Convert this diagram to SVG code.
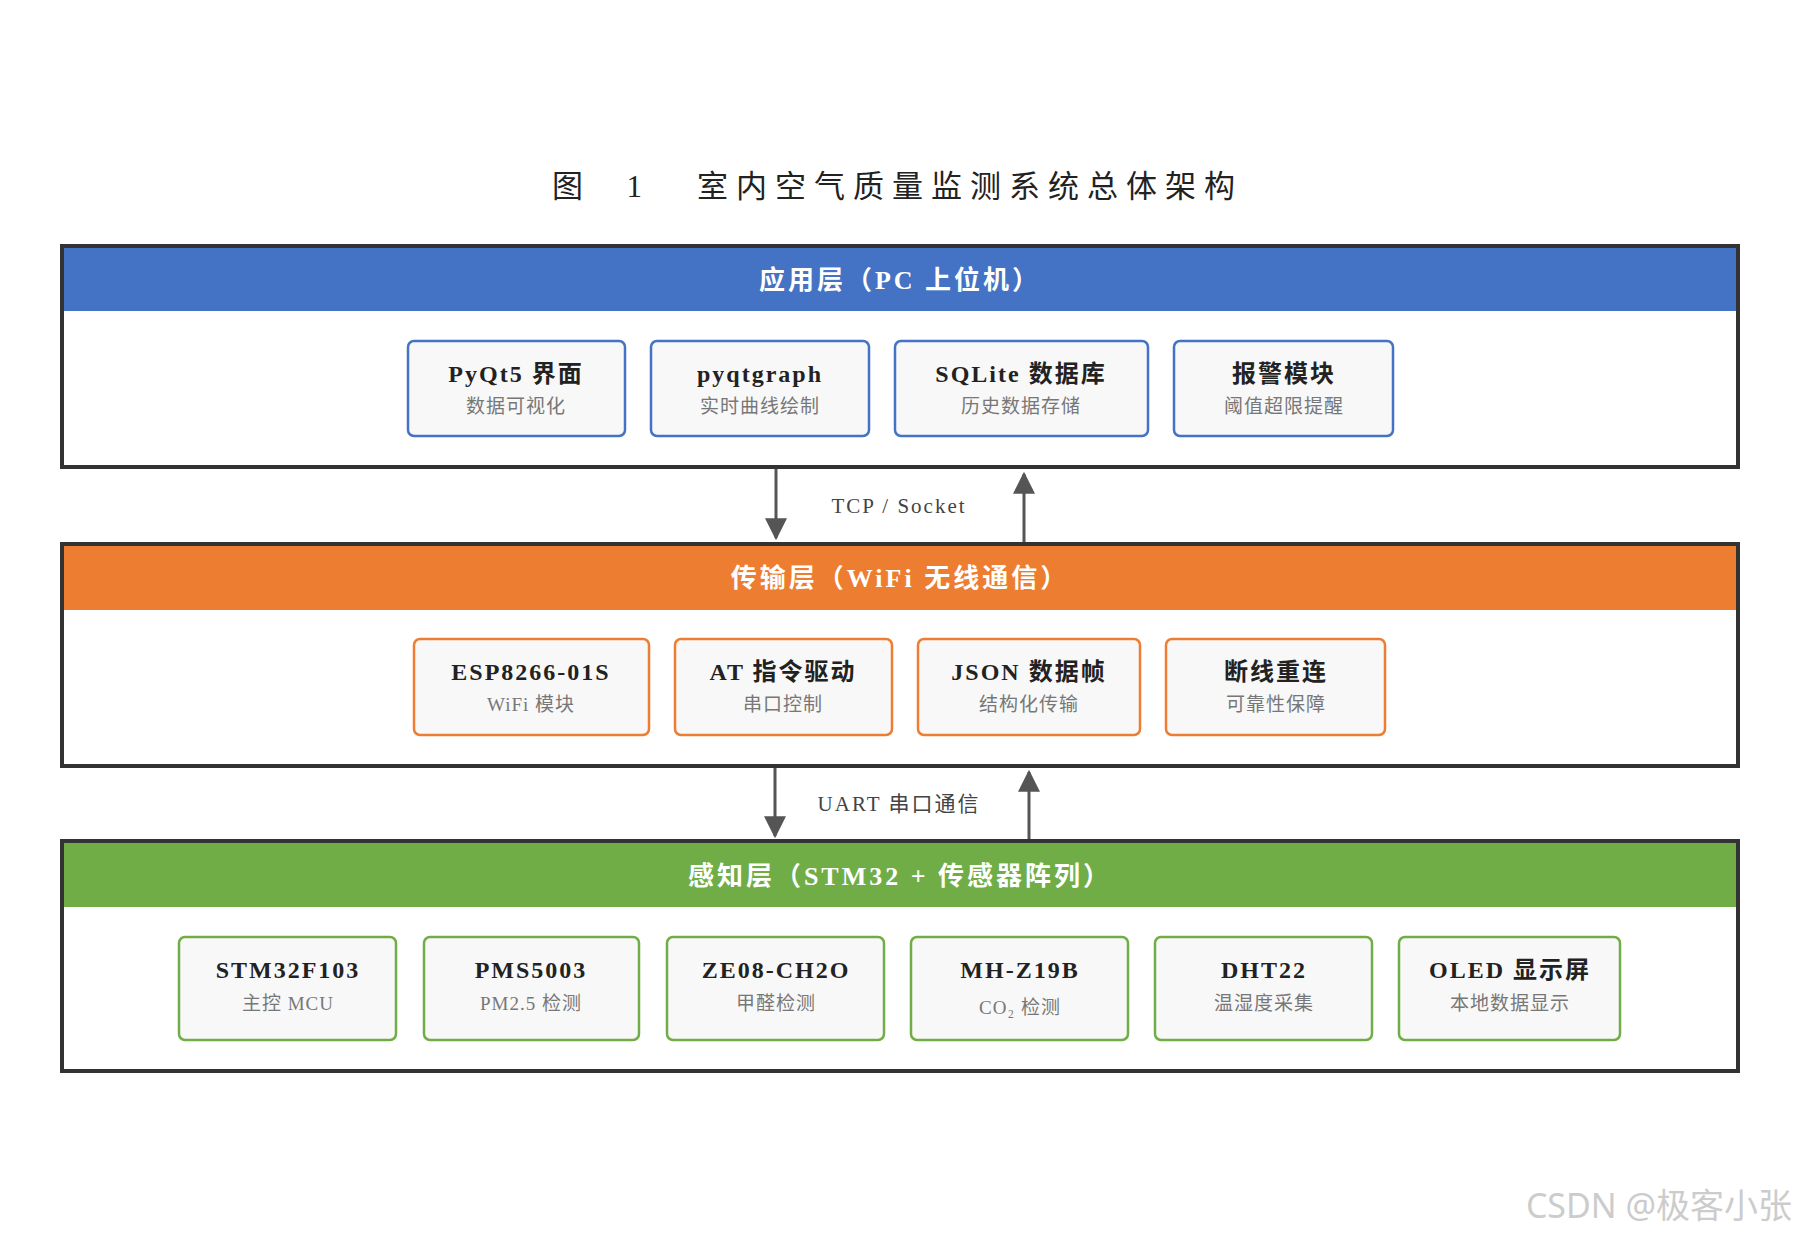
<svg xmlns="http://www.w3.org/2000/svg" width="1800" height="1240" viewBox="0 0 1800 1240">
<defs>
<marker id="ah" viewBox="0 0 10 10" refX="9" refY="5" markerWidth="7" markerHeight="7" orient="auto" markerUnits="userSpaceOnUse"><path d="M0,0 L10,5 L0,10 z" fill="#555"/></marker>
<style>
text{font-family:"Liberation Serif","Noto Sans CJK SC",serif;text-anchor:middle}
.title{font-size:31px;letter-spacing:8px;fill:#222}
.hdr{font-size:26px;font-weight:bold;fill:#fff;letter-spacing:3px}
.bt{font-size:24px;font-weight:bold;fill:#222;letter-spacing:2px}
.bs{font-size:19px;fill:#777;letter-spacing:1px}
.lbl{font-size:21px;fill:#444;letter-spacing:2px}
.outer{fill:#fff;stroke:#333;stroke-width:4}
.box{fill:#f8f8f8;stroke-width:2.5}
.b1{stroke:#4472C4}.b2{stroke:#ED7D31}.b3{stroke:#70AD47}
.conn{stroke:#555;stroke-width:3;fill:none;marker-end:url(#ah)}
</style>
<marker id="ah2" viewBox="0 0 10 10" refX="9" refY="5" markerWidth="22" markerHeight="22" orient="auto" markerUnits="userSpaceOnUse"><path d="M0,0 L10,5 L0,10 z" fill="#555"/></marker>
</defs>
<rect width="1800" height="1240" fill="#fff"/>
<text class="title" x="606" y="197" style="letter-spacing:18px">图 1</text>
<text class="title" x="970" y="197">室内空气质量监测系统总体架构</text>

<g id="layer-app">
<rect class="outer" x="62" y="246" width="1676" height="221"/>
<rect x="64" y="248" width="1672" height="63" fill="#4472C4"/>
<text class="hdr" x="900" y="289">应用层（PC 上位机）</text>
</g>
<g id="n-pyqt5"><rect class="box b1" x="408" y="341" width="217" height="95" rx="6"/><text class="bt" x="516" y="382">PyQt5 界面</text><text class="bs" x="516" y="413">数据可视化</text></g>
<g id="n-pyqtgraph"><rect class="box b1" x="651" y="341" width="218" height="95" rx="6"/><text class="bt" x="760" y="382">pyqtgraph</text><text class="bs" x="760" y="413">实时曲线绘制</text></g>
<g id="n-sqlite"><rect class="box b1" x="895" y="341" width="253" height="95" rx="6"/><text class="bt" x="1021" y="382">SQLite 数据库</text><text class="bs" x="1021" y="413">历史数据存储</text></g>
<g id="n-alarm"><rect class="box b1" x="1174" y="341" width="219" height="95" rx="6"/><text class="bt" x="1284" y="382">报警模块</text><text class="bs" x="1284" y="413">阈值超限提醒</text></g>

<g id="layer-trans">
<rect class="outer" x="62" y="544" width="1676" height="222"/>
<rect x="64" y="546" width="1672" height="64" fill="#ED7D31"/>
<text class="hdr" x="900" y="587">传输层（WiFi 无线通信）</text>
</g>
<g id="n-esp"><rect class="box b2" x="414" y="639" width="235" height="96" rx="6"/><text class="bt" x="531" y="680">ESP8266-01S</text><text class="bs" x="531" y="711">WiFi 模块</text></g>
<g id="n-at"><rect class="box b2" x="675" y="639" width="217" height="96" rx="6"/><text class="bt" x="783" y="680">AT 指令驱动</text><text class="bs" x="783" y="711">串口控制</text></g>
<g id="n-json"><rect class="box b2" x="918" y="639" width="222" height="96" rx="6"/><text class="bt" x="1029" y="680">JSON 数据帧</text><text class="bs" x="1029" y="711">结构化传输</text></g>
<g id="n-reconn"><rect class="box b2" x="1166" y="639" width="219" height="96" rx="6"/><text class="bt" x="1276" y="680">断线重连</text><text class="bs" x="1276" y="711">可靠性保障</text></g>

<g id="layer-sense">
<rect class="outer" x="62" y="841" width="1676" height="230"/>
<rect x="64" y="843" width="1672" height="64" fill="#70AD47"/>
<text class="hdr" x="900" y="885">感知层（STM32 + 传感器阵列）</text>
</g>
<g id="n-stm32"><rect class="box b3" x="179" y="937" width="217" height="103" rx="6"/><text class="bt" x="288" y="978">STM32F103</text><text class="bs" x="288" y="1010">主控 MCU</text></g>
<g id="n-pms"><rect class="box b3" x="424" y="937" width="215" height="103" rx="6"/><text class="bt" x="531" y="978">PMS5003</text><text class="bs" x="531" y="1010">PM2.5 检测</text></g>
<g id="n-ze08"><rect class="box b3" x="667" y="937" width="217" height="103" rx="6"/><text class="bt" x="776" y="978">ZE08-CH2O</text><text class="bs" x="776" y="1010">甲醛检测</text></g>
<g id="n-mh"><rect class="box b3" x="911" y="937" width="217" height="103" rx="6"/><text class="bt" x="1020" y="978">MH-Z19B</text><text class="bs" x="1020" y="1014">CO₂ 检测</text></g>
<g id="n-dht"><rect class="box b3" x="1155" y="937" width="217" height="103" rx="6"/><text class="bt" x="1264" y="978">DHT22</text><text class="bs" x="1264" y="1010">温湿度采集</text></g>
<g id="n-oled"><rect class="box b3" x="1399" y="937" width="221" height="103" rx="6"/><text class="bt" x="1510" y="978">OLED 显示屏</text><text class="bs" x="1510" y="1010">本地数据显示</text></g>

<g id="connectors">
<line class="conn" style="marker-end:url(#ah2)" x1="776" y1="469" x2="776" y2="538"/>
<line class="conn" style="marker-end:url(#ah2)" x1="1024" y1="542" x2="1024" y2="474"/>
<text class="lbl" x="899" y="513">TCP / Socket</text>
<line class="conn" style="marker-end:url(#ah2)" x1="775" y1="768" x2="775" y2="836"/>
<line class="conn" style="marker-end:url(#ah2)" x1="1029" y1="839" x2="1029" y2="772"/>
<text class="lbl" x="899" y="811">UART 串口通信</text>
</g>
<text x="1659" y="1218" style="font-family:'Noto Sans','Noto Sans CJK SC',sans-serif;font-size:34px;fill:#ccc">CSDN @极客小张</text>
</svg>
